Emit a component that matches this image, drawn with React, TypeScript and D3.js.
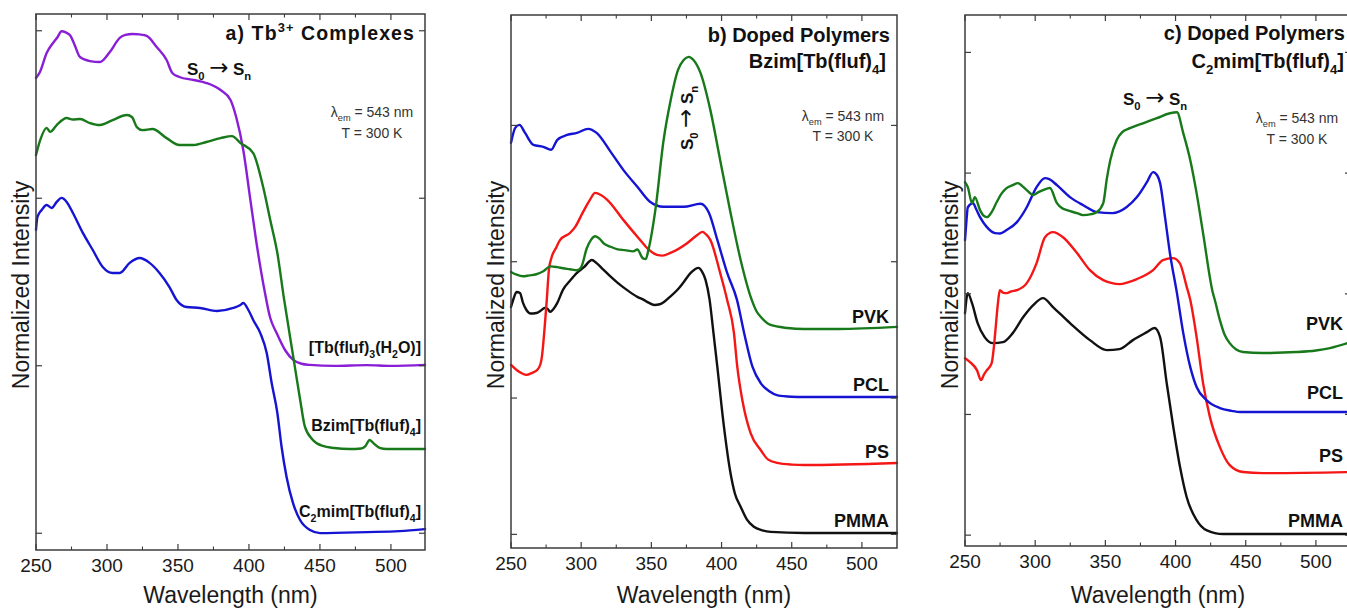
import React from "react";
import * as d3 from "d3";

type Pt = [number, number];
type Part = [string, "n" | "sub" | "sup" | "arrow"];

const FONT = "'Liberation Sans', Arial, Helvetica, sans-serif";
const WIDTH = 1347;
const HEIGHT = 608;

// Axis ticks (wavelength in nm, intensity in stacked normalized units)
const wavelengthTicks = [250, 300, 350, 400, 450, 500];
const wavelengthMinorTicks = [275, 325, 375, 425, 475];
const intensityTicksA = [0, 1, 2, 3];
const intensityTicksB = [0, 1, 2, 3];
const intensityTicksC = [0, 1, 2, 3, 4];

// a) Tb3+ complexes — excitation spectra, λem = 543 nm
const tbAqua: Pt[] = [
  [250, 2.718], [252.8, 2.754], [257.5, 2.867], [262, 2.927], [265, 2.96], [268, 2.997], [271, 2.99],
  [274, 2.973], [277, 2.92], [281, 2.843], [288, 2.819], [295, 2.813], [302, 2.873], [309, 2.957],
  [313, 2.975], [318, 2.981], [323, 2.978], [328, 2.969], [335, 2.903], [342, 2.825], [346, 2.748],
  [351, 2.724], [361, 2.706], [370, 2.688], [380, 2.646], [387, 2.587], [391, 2.485], [396, 2.288],
  [401, 1.99], [405, 1.751], [411.3, 1.434], [414.8, 1.291], [419.5, 1.195], [425.4, 1.094],
  [431.2, 1.035], [437, 1.012], [443, 1.005], [460, 0.999], [483, 1.004], [500, 0.999], [524, 1.005],
];
const bzimComplex: Pt[] = [
  [250, 2.258], [253, 2.348], [257.5, 2.42], [260, 2.396], [264.6, 2.437], [271.6, 2.479], [276, 2.47],
  [281, 2.473], [288, 2.449], [295, 2.437], [304, 2.467], [314, 2.497], [317.6, 2.485], [321, 2.425],
  [325, 2.407], [332, 2.413], [342, 2.359], [351, 2.318], [361, 2.318], [370, 2.336], [380, 2.359],
  [388, 2.371], [394, 2.33], [403, 2.27], [410, 2.067], [415, 1.87], [420, 1.673], [424.5, 1.41],
  [431.2, 1.054], [436, 0.8], [439.4, 0.636], [445, 0.557], [452, 0.521], [460, 0.509], [471, 0.503],
  [479, 0.506], [482, 0.52], [485, 0.557], [488, 0.535], [492, 0.51], [497, 0.503], [524, 0.503],
];
const c2mimComplex: Pt[] = [
  [250, 1.811], [251, 1.888], [254, 1.93], [257.5, 1.96], [261, 1.942], [264.6, 1.978], [268, 2.002],
  [271.6, 1.978], [276, 1.912], [283, 1.793], [290, 1.691], [297, 1.59], [304, 1.554], [309, 1.554],
  [316, 1.614], [323, 1.643], [330, 1.614], [337, 1.554], [344, 1.47], [349, 1.393], [356, 1.351],
  [365.5, 1.345], [377.5, 1.327], [389, 1.345], [394, 1.363], [396, 1.375], [399.6, 1.333],
  [403, 1.273], [408, 1.195], [412.5, 1.076], [416, 0.897], [420, 0.718], [423, 0.515], [426.5, 0.336],
  [431, 0.181], [436, 0.079], [443, 0.019], [450, 0.001], [483, 0.007], [506, 0.013], [524, 0.025],
];

// b) Bzim[Tb(fluf)4] doped polymers
const bzimPVK: Pt[] = [
  [250, 1.925], [254, 1.905], [258.6, 1.893], [263, 1.9], [268, 1.908], [273, 1.93], [278, 1.966],
  [283, 1.96], [287, 1.952], [292, 1.945], [297, 1.937], [300, 1.96], [304, 2.099], [307, 2.16],
  [310, 2.187], [313, 2.17], [316, 2.135], [321, 2.11], [326, 2.091], [331, 2.085], [337, 2.076],
  [340, 2.09], [344, 2.025], [346, 2.02], [348, 2.091], [353, 2.392], [358.6, 2.884], [363.6, 3.177],
  [369, 3.407], [373, 3.48], [376.6, 3.503], [380, 3.48], [385, 3.385], [392, 3.114], [399, 2.747],
  [406, 2.38], [413.6, 2.013], [421.5, 1.72], [425, 1.635], [428, 1.595], [435, 1.536], [447, 1.514],
  [458.6, 1.507], [483, 1.507], [525, 1.522],
];
const bzimPCL: Pt[] = [
  [250, 2.872], [253, 2.982], [256, 3.004], [260, 2.945], [266, 2.857], [273, 2.843], [278.6, 2.821],
  [283, 2.894], [290, 2.93], [297, 2.945], [305, 2.975], [311, 2.945], [321, 2.806], [330, 2.674],
  [340, 2.55], [349, 2.44], [358.6, 2.403], [373, 2.403], [385, 2.425], [391, 2.359], [397, 2.16],
  [404, 1.918], [411, 1.72], [416, 1.481], [422, 1.23], [428, 1.108], [434, 1.05], [440, 1.02],
  [450, 1.01], [459, 1.008], [525, 1.008],
];
const bzimPS: Pt[] = [
  [250, 1.243], [254, 1.206], [258, 1.18], [261, 1.17], [265, 1.185], [268.6, 1.206], [271, 1.25],
  [272, 1.302], [274, 1.522], [275.5, 1.72], [277, 1.94], [279, 2.035], [282, 2.1], [285, 2.16],
  [292, 2.211], [296, 2.26], [301, 2.358], [306, 2.45], [310, 2.505], [314, 2.49], [318.6, 2.454],
  [330, 2.307], [342, 2.16], [348, 2.09], [354, 2.05], [358, 2.045], [363.6, 2.065], [375.7, 2.138],
  [382, 2.19], [386.4, 2.219], [389, 2.2], [392, 2.16], [399, 1.918], [404, 1.72], [408.8, 1.481],
  [411.2, 1.23], [414.8, 0.986], [420.7, 0.743], [427.9, 0.619], [433, 0.55], [439.8, 0.524],
  [450, 0.512], [459, 0.509], [525, 0.524],
];
const bzimPMMA: Pt[] = [
  [250, 1.668], [252, 1.734], [254, 1.778], [256.4, 1.771], [258.5, 1.7], [261, 1.646], [264, 1.62],
  [268, 1.624], [271, 1.64], [274, 1.661], [276, 1.655], [278, 1.632], [280, 1.65], [283, 1.698],
  [287, 1.794], [292, 1.86], [297, 1.918], [302, 1.96], [307.6, 2.013], [311, 1.99], [316, 1.94],
  [321, 1.89], [326, 1.845], [333, 1.79], [340, 1.742], [344.6, 1.72], [348, 1.7], [352, 1.683],
  [356, 1.688], [359, 1.705], [363, 1.74], [368.6, 1.794], [373, 1.85], [378, 1.918], [383.6, 1.955],
  [386, 1.93], [388.6, 1.867], [391.5, 1.72], [394, 1.5], [397, 1.228], [401.7, 0.79], [406.4, 0.448],
  [409.5, 0.3], [413.6, 0.203], [418, 0.11], [423, 0.056], [429, 0.03], [435, 0.018], [459, 0.01],
  [525, 0.01],
];

// c) C2mim[Tb(fluf)4] doped polymers
const c2mimPVK: Pt[] = [
  [250, 2.925], [252, 2.884], [255, 2.751], [257, 2.801], [260.7, 2.693], [263, 2.65], [265.6, 2.635],
  [269, 2.677], [272.6, 2.76], [276, 2.83], [279.6, 2.876], [284, 2.9], [287.7, 2.917], [291, 2.89],
  [294, 2.859], [298.6, 2.818], [302, 2.84], [305.6, 2.859], [310.5, 2.876], [315.5, 2.751],
  [319, 2.71], [322.6, 2.693], [329.8, 2.668], [334, 2.652], [340, 2.66], [344, 2.677], [348.5, 2.751],
  [351, 2.95], [353.5, 3.107], [358, 3.273], [362, 3.34], [367.5, 3.372], [376.8, 3.413],
  [386.7, 3.455], [396, 3.496], [401, 3.504], [405.5, 3.331], [410.5, 3.107], [415, 2.834],
  [419.6, 2.503], [426.6, 2.006], [428, 1.948], [431.6, 1.782], [435, 1.66], [438.6, 1.591],
  [443, 1.54], [448, 1.517], [462, 1.509], [486, 1.517], [500, 1.53], [510, 1.55], [525, 1.6],
];
const c2mimPCL: Pt[] = [
  [250, 2.445], [251, 2.6], [252, 2.717], [255.7, 2.751], [258, 2.7], [260.7, 2.635], [265.6, 2.552],
  [271.4, 2.503], [275, 2.5], [279.6, 2.528], [287, 2.594], [294, 2.717], [301, 2.883], [307, 2.958],
  [310, 2.95], [315.5, 2.9], [324.8, 2.801], [334, 2.735], [344, 2.677], [355, 2.668], [365, 2.717],
  [372.5, 2.801], [379.6, 2.925], [384, 3.008], [387, 2.98], [389, 2.917], [392.5, 2.635],
  [396, 2.336], [401, 2.005], [405.5, 1.674], [410.5, 1.392], [415, 1.227], [422, 1.119],
  [431.6, 1.053], [440, 1.03], [446, 1.02], [525, 1.02],
];
const c2mimPS: Pt[] = [
  [250, 1.466], [253.6, 1.434], [258.5, 1.367], [261.4, 1.285], [263.5, 1.33], [265.6, 1.367],
  [269, 1.425], [270.5, 1.55], [271.5, 1.674], [273.7, 1.948], [274.8, 2.03], [277, 2.01],
  [279.6, 2.005], [283, 2.02], [287, 2.03], [294, 2.088], [301, 2.254], [307, 2.469], [312.7, 2.511],
  [319.8, 2.469], [329.8, 2.337], [339, 2.196], [348.5, 2.113], [354, 2.09], [360.4, 2.08],
  [366, 2.095], [372.5, 2.122], [384, 2.196], [391, 2.279], [398, 2.295], [403, 2.254], [408, 2.055],
  [410.5, 1.948], [415, 1.641], [419.6, 1.26], [424.5, 0.978], [431.6, 0.729], [438.6, 0.58],
  [448, 0.523], [462, 0.514], [525, 0.523],
];
const c2mimPMMA: Pt[] = [
  [250, 1.839], [252, 2.005], [255, 1.922], [259, 1.757], [264, 1.641], [270, 1.591], [277, 1.599],
  [284, 1.674], [291.5, 1.807], [298.6, 1.906], [305.6, 1.964], [312.7, 1.89], [324.8, 1.757],
  [339, 1.616], [351, 1.533], [360, 1.541], [369.6, 1.616], [379.6, 1.682], [385, 1.716], [389, 1.641],
  [393.7, 1.26], [398.4, 0.896], [403.2, 0.564], [407.9, 0.316], [415, 0.125], [422, 0.042],
  [434, 0.009], [525, 0.009],
];

const PURPLE = "#8a1ed6";
const GREEN = "#17791a";
const BLUE = "#1414d2";
const RED = "#f51616";
const BLACK = "#111111";

const S0Sn: Part[] = [["S", "n"], ["0", "sub"], ["\u2009\u2192\u2009", "arrow"], ["S", "n"], ["n", "sub"]];

function Rich(props: {
  x: number; y: number; parts: Part[]; size: number;
  anchor?: "start" | "middle" | "end"; weight?: string; fill?: string; rotate?: number; spacing?: number;
}) {
  const { x, y, parts, size, anchor = "start", weight = "bold", fill = "#111", rotate, spacing = 0 } = props;
  let off = 0;
  const spans = parts.map(([t, kind], i) => {
    const target = kind === "sub" ? size * 0.3 : kind === "sup" ? -size * 0.42 : 0;
    const dy = target - off;
    off = target;
    if (kind === "arrow") {
      return (
        <tspan key={i} dy={dy} fontSize={size * 1.35} fontFamily="'DejaVu Sans', sans-serif" fontWeight="normal">
          {t}
        </tspan>
      );
    }
    return (
      <tspan key={i} dy={dy} fontSize={kind === "n" ? size : size * 0.66}>
        {t}
      </tspan>
    );
  });
  return (
    <text
      x={x}
      y={y}
      textAnchor={anchor}
      fontWeight={weight}
      fontSize={size}
      fill={fill}
      fontFamily={FONT}
      letterSpacing={spacing}
      style={{ whiteSpace: "pre" }}
      transform={rotate ? `rotate(${rotate} ${x} ${y})` : undefined}
    >
      {spans}
    </text>
  );
}

interface Series { data: Pt[]; color: string }
interface Note { x: number; y: number; parts: Part[]; size: number; anchor?: "start" | "middle" | "end"; weight?: string; fill?: string; rotate?: number; spacing?: number }

interface PanelProps {
  left: number; right: number; top: number; bottom: number; xMax: number;
  yDomain: [number, number]; yTicks: number[]; series: Series[]; notes: Note[];
}

function Panel({ left, right, top, bottom, xMax, yDomain, yTicks, series, notes }: PanelProps) {
  const x = d3.scaleLinear().domain([250, xMax]).range([left, right]);
  const y = d3.scaleLinear().domain(yDomain).range([bottom, top]);
  const line = d3.line<Pt>().x((d) => x(d[0])).y((d) => y(d[1])).curve(d3.curveMonotoneX);
  const axisColor = "#3c3c3c";
  const majors = wavelengthTicks.filter((t) => t <= xMax);
  const minors = wavelengthMinorTicks.filter((t) => t <= xMax);
  const cx = (left + right) / 2;
  return (
    <g>
      {series.map((s, i) => (
        <path key={i} d={line(s.data) || ""} fill="none" stroke={s.color} strokeWidth={2.4} strokeLinejoin="round" strokeLinecap="round" />
      ))}
      <rect x={left} y={top} width={right - left} height={bottom - top} fill="none" stroke={axisColor} strokeWidth={1.5} />
      {majors.map((t) => (
        <g key={"M" + t}>
          <line x1={x(t)} x2={x(t)} y1={bottom} y2={bottom - 6} stroke={axisColor} strokeWidth={1.2} />
          <line x1={x(t)} x2={x(t)} y1={top} y2={top + 6} stroke={axisColor} strokeWidth={1.2} />
          <text x={x(t)} y={bottom + 22} textAnchor="middle" fontSize={19} fontFamily={FONT} fill="#1a1a1a">
            {t}
          </text>
        </g>
      ))}
      {minors.map((t) => (
        <g key={"m" + t}>
          <line x1={x(t)} x2={x(t)} y1={bottom} y2={bottom - 3.5} stroke={axisColor} strokeWidth={1.1} />
          <line x1={x(t)} x2={x(t)} y1={top} y2={top + 3.5} stroke={axisColor} strokeWidth={1.1} />
        </g>
      ))}
      {yTicks.map((t) => (
        <g key={"y" + t}>
          <line x1={left} x2={left + 6} y1={y(t)} y2={y(t)} stroke={axisColor} strokeWidth={1.2} />
          <line x1={right} x2={right - 6} y1={y(t)} y2={y(t)} stroke={axisColor} strokeWidth={1.2} />
        </g>
      ))}
      <text x={cx} y={603} textAnchor="middle" fontSize={23} fontFamily={FONT} fill="#1a1a1a">
        Wavelength (nm)
      </text>
      <text
        x={left - 7}
        y={285}
        textAnchor="middle"
        fontSize={23}
        fontFamily={FONT}
        fill="#1a1a1a"
        transform={`rotate(-90 ${left - 7} 285)`}
      >
        Normalized Intensity
      </text>
      {notes.map((n, i) => (
        <Rich key={i} {...n} />
      ))}
    </g>
  );
}

export default function App() {
  return (
    <svg
      width={WIDTH}
      height={HEIGHT}
      viewBox={`0 0 ${WIDTH} ${HEIGHT}`}
      style={{ position: "absolute", left: 0, top: 0, background: "#fff" }}
    >
      <rect width={WIDTH} height={HEIGHT} fill="#fff" />
      <Panel
        left={36} right={425} top={14} bottom={550} xMax={524}
        yDomain={[-0.1, 3.1]} yTicks={intensityTicksA}
        series={[
          { data: tbAqua, color: PURPLE },
          { data: bzimComplex, color: GREEN },
          { data: c2mimComplex, color: BLUE },
        ]}
        notes={[
          { x: 415, y: 40, parts: [["a) Tb", "n"], ["3+", "sup"], [" Complexes", "n"]], size: 19.5, anchor: "end", spacing: 1.1 },
          { x: 187, y: 75, parts: S0Sn, size: 17 },
          { x: 372, y: 117, parts: [["\u03bb", "n"], ["em", "sub"], [" = 543 nm", "n"]], size: 14, anchor: "middle", weight: "normal", fill: "#333" },
          { x: 372, y: 138, parts: [["T = 300 K", "n"]], size: 14, anchor: "middle", weight: "normal", fill: "#333" },
          { x: 421, y: 353, parts: [["[Tb(fluf)", "n"], ["3", "sub"], ["(H", "n"], ["2", "sub"], ["O)]", "n"]], size: 16, anchor: "end" },
          { x: 421, y: 431, parts: [["Bzim[Tb(fluf)", "n"], ["4", "sub"], ["]", "n"]], size: 16, anchor: "end" },
          { x: 421, y: 517, parts: [["C", "n"], ["2", "sub"], ["mim[Tb(fluf)", "n"], ["4", "sub"], ["]", "n"]], size: 16, anchor: "end" },
        ]}
      />
      <Panel
        left={511} right={897} top={15} bottom={548} xMax={525}
        yDomain={[-0.1, 3.81]} yTicks={intensityTicksB}
        series={[
          { data: bzimPMMA, color: BLACK },
          { data: bzimPS, color: RED },
          { data: bzimPCL, color: BLUE },
          { data: bzimPVK, color: GREEN },
        ]}
        notes={[
          { x: 890, y: 42, parts: [["b) Doped Polymers", "n"]], size: 20, anchor: "end" },
          { x: 886, y: 68, parts: [["Bzim[Tb(fluf)", "n"], ["4", "sub"], ["]", "n"]], size: 20, anchor: "end" },
          { x: 693, y: 118, parts: S0Sn, size: 17, anchor: "middle", rotate: -90 },
          { x: 843, y: 121, parts: [["\u03bb", "n"], ["em", "sub"], [" = 543 nm", "n"]], size: 14, anchor: "middle", weight: "normal", fill: "#333" },
          { x: 843, y: 141, parts: [["T = 300 K", "n"]], size: 14, anchor: "middle", weight: "normal", fill: "#333" },
          { x: 889, y: 323, parts: [["PVK", "n"]], size: 18, anchor: "end" },
          { x: 889, y: 391, parts: [["PCL", "n"]], size: 18, anchor: "end" },
          { x: 889, y: 458, parts: [["PS", "n"]], size: 18, anchor: "end" },
          { x: 889, y: 527, parts: [["PMMA", "n"]], size: 18, anchor: "end" },
        ]}
      />
      <Panel
        left={965} right={1351} top={15} bottom={546} xMax={525}
        yDomain={[-0.09, 4.31]} yTicks={intensityTicksC}
        series={[
          { data: c2mimPMMA, color: BLACK },
          { data: c2mimPS, color: RED },
          { data: c2mimPCL, color: BLUE },
          { data: c2mimPVK, color: GREEN },
        ]}
        notes={[
          { x: 1345, y: 40, parts: [["c) Doped Polymers", "n"]], size: 20, anchor: "end" },
          { x: 1344, y: 68, parts: [["C", "n"], ["2", "sub"], ["mim[Tb(fluf)", "n"], ["4", "sub"], ["]", "n"]], size: 20, anchor: "end" },
          { x: 1123, y: 105, parts: S0Sn, size: 17 },
          { x: 1297, y: 123, parts: [["\u03bb", "n"], ["em", "sub"], [" = 543 nm", "n"]], size: 14, anchor: "middle", weight: "normal", fill: "#333" },
          { x: 1297, y: 144, parts: [["T = 300 K", "n"]], size: 14, anchor: "middle", weight: "normal", fill: "#333" },
          { x: 1343, y: 330, parts: [["PVK", "n"]], size: 18, anchor: "end" },
          { x: 1343, y: 399, parts: [["PCL", "n"]], size: 18, anchor: "end" },
          { x: 1343, y: 462, parts: [["PS", "n"]], size: 18, anchor: "end" },
          { x: 1343, y: 527, parts: [["PMMA", "n"]], size: 18, anchor: "end" },
        ]}
      />
    </svg>
  );
}
